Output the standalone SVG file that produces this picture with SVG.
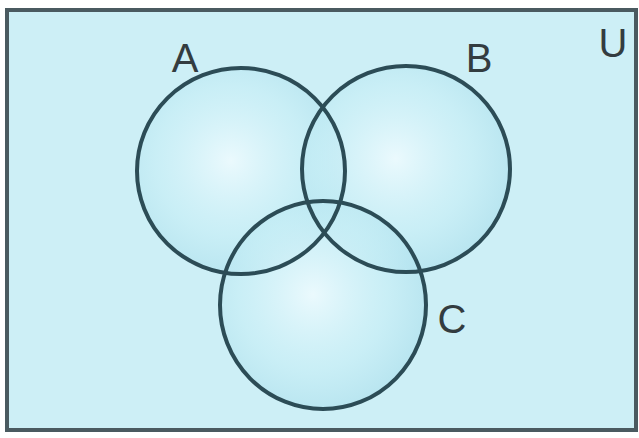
<svg xmlns="http://www.w3.org/2000/svg" width="639" height="438" viewBox="0 0 639 438">
<defs>
<radialGradient id="g" cx="0.45" cy="0.45" r="0.6">
<stop offset="0" stop-color="#f2fcff" stop-opacity="0.8"/>
<stop offset="0.6" stop-color="#c6eef6" stop-opacity="0.55"/>
<stop offset="1" stop-color="#a6dcea" stop-opacity="0.6"/>
</radialGradient>
<style>
.f{fill:url(#g);stroke:none}
.c{fill:none;stroke:#2c4c56;stroke-width:4}
.t{font-family:"Liberation Sans",Arial,sans-serif;font-size:40px;fill:#333c40;text-anchor:middle}
</style>
</defs>
<rect x="0" y="0" width="639" height="438" fill="#ffffff"/>
<rect x="7" y="10" width="629" height="420" fill="#cdeff6" stroke="#4a5a60" stroke-width="4"/>
<g id="fills">
<ellipse class="f" cx="241" cy="171" rx="104" ry="103"/>
<ellipse class="f" cx="406" cy="169" rx="104" ry="103"/>
<ellipse class="f" cx="323" cy="305" rx="103" ry="104"/>
</g>
<g id="A"><ellipse class="c" cx="241" cy="171" rx="104" ry="103"/><text class="t" x="185" y="72">A</text></g>
<g id="B"><ellipse class="c" cx="406" cy="169" rx="104" ry="103"/><text class="t" x="479" y="72">B</text></g>
<g id="C"><ellipse class="c" cx="323" cy="305" rx="103" ry="104"/><text class="t" x="452" y="333">C</text></g>
<g id="U"><text class="t" x="613" y="57">U</text></g>
</svg>
